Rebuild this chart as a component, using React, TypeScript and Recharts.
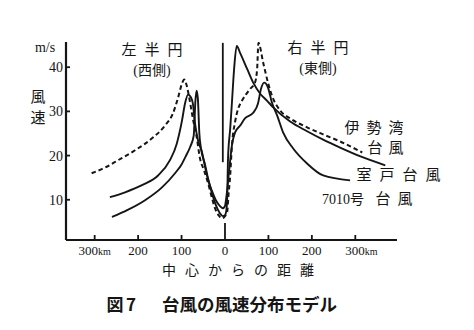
import React from 'react';
import { LineChart, Line, XAxis, YAxis, ReferenceLine } from 'recharts';

// 伊勢湾台風 (dashed)
const isewanKm = [-307, -276, -247, -207, -168, -138, -120, -108, -99, -94, -88, -81, -74, -65, -58, -48, -39, -30, -23, -14, -7, 0, 5, 8, 12, 16, 23, 30, 39, 48, 58, 69, 74, 77, 88, 99, 108, 127, 150, 189, 226, 265, 316];
const isewanSpeed = [16.0, 17.3, 18.9, 21.2, 23.9, 26.8, 29.5, 33.1, 36.3, 37.2, 35.8, 32.4, 28.4, 24.1, 19.6, 16.6, 13.8, 10.4, 8.1, 6.4, 5.8, 6.3, 7.2, 11.0, 15.5, 22.3, 27.5, 30.5, 32.4, 33.8, 35.1, 36.5, 39.6, 45.5, 41.0, 36.5, 33.6, 30.2, 28.4, 26.4, 24.8, 23.2, 20.7];

// 室戸台風 (solid)
const murotoKm = [-260, -224, -184, -145, -115, -100, -90, -80, -72, -68, -65.5, -62.5, -59, -55, -46, -39, -30, -21, -12, -5, 0, 3, 5, 7, 12, 16, 21, 27, 35, 51, 65, 81, 97, 111, 150, 189, 226, 265, 312, 369];
const murotoSpeed = [6.1, 7.7, 9.9, 12.8, 16.0, 18.0, 19.9, 22.0, 24.5, 32.5, 34.7, 33.0, 25.0, 21.5, 18.0, 14.8, 11.5, 8.8, 7.0, 6.3, 6.5, 7.5, 10.0, 19.4, 26.1, 32.0, 39.6, 44.8, 43.2, 39.6, 36.5, 34.0, 32.4, 30.9, 27.7, 25.5, 23.6, 21.8, 19.8, 17.8];

// 7010号台風 (solid)
const t7010Km = [-265, -230, -191, -154, -127, -111, -99, -92, -85, -78, -74, -69, -62, -53, -46, -39, -30, -21, -12, -5, 0, 3, 6, 9, 16, 23, 35, 46, 65, 76, 83, 90, 99, 108, 120, 134, 157, 189, 226, 288];
const t7010Speed = [10.6, 11.7, 13.3, 15.5, 18.9, 22.7, 27.9, 31.8, 33.8, 33.1, 31.8, 27.3, 23.4, 20.8, 17.5, 14.6, 12.0, 9.9, 8.6, 8.1, 8.6, 10.5, 13.0, 16.0, 22.3, 25.2, 26.8, 28.4, 29.7, 31.8, 35.1, 36.5, 35.4, 32.0, 29.1, 25.2, 21.6, 18.2, 15.5, 14.4];

// center line segment
const centerKm = -5;
const centerSpeedRange = [18.5, 45.5];

const xTicks = [-300, -200, -100, 0, 100, 200, 300];
const xTickLabels = ['300', '200', '100', '0', '100', '200', '300'];
const yTicks = [10, 20, 30, 40];

const toPoints = (km: number[], v: number[]) => km.map((k, i) => ({ km: k, v: v[i] }));

const INK = '#151515';
const SERIF = '"Liberation Serif", "DejaVu Serif", serif';
const CJK = '"Liberation Serif", "Noto Sans CJK JP", serif';

const XTick = (props: any) => {
  const { x, y, payload, index } = props;
  const label = xTickLabels[index];
  const isKm = payload.value === 300 || payload.value === -300;
  const len = payload.value === 0 ? 17 : 5;
  return (
    <g>
      <line x1={x} y1={y} x2={x} y2={y - len} stroke={INK} strokeWidth={1.8} />
      <text
        x={payload.value === 300 ? x - 10 : x}
        y={y + 15}
        textAnchor={payload.value === 300 ? 'start' : 'middle'}
        fontFamily={SERIF}
        fontSize={13}
        fill={INK}
      >
        {label}
        {isKm ? <tspan fontSize={10}>km</tspan> : null}
      </text>
    </g>
  );
};

const YTick = (props: any) => {
  const { x, y, payload } = props;
  return (
    <g>
      <line x1={x} y1={y} x2={x + 4} y2={y} stroke={INK} strokeWidth={1.8} />
      <text x={x - 3} y={y + 5} textAnchor="end" fontFamily={SERIF} fontSize={14} fill={INK}>
        {payload.value}
      </text>
    </g>
  );
};

const Spaced = ({ text, x, y, step, size, family = CJK, weight = 400 }: any) => (
  <g>
    {Array.from(text as string).map((ch, i) => (
      <text
        key={i}
        x={x + i * step}
        y={y}
        textAnchor="middle"
        dominantBaseline="central"
        fontFamily={family}
        fontSize={size}
        fontWeight={weight}
        fill={INK}
      >
        {ch}
      </text>
    ))}
  </g>
);

export default function App() {
  return (
    <div style={{ position: 'relative', width: 466, height: 322, background: '#fff' }}>
      <LineChart
        width={466}
        height={322}
        margin={{ top: 34, right: 77, bottom: 70, left: 18 }}
      >
        <XAxis
          dataKey="km"
          type="number"
          domain={[-366, 396]}
          ticks={xTicks}
          allowDataOverflow
          tickSize={0}
          tickMargin={0}
          height={20}
          tick={<XTick />}
          axisLine={{ stroke: INK, strokeWidth: 2.2 }}
          tickLine={false}
        />
        <YAxis
          type="number"
          domain={[0.9, 45.7]}
          ticks={yTicks}
          allowDataOverflow
          tickSize={0}
          tickMargin={0}
          width={40}
          tick={<YTick />}
          axisLine={{ stroke: INK, strokeWidth: 2.2 }}
          tickLine={false}
        />
        <ReferenceLine
          segment={[
            { x: centerKm, y: centerSpeedRange[0] },
            { x: centerKm, y: centerSpeedRange[1] },
          ]}
          stroke={INK}
          strokeWidth={1.8}
        />
        <Line
          data={toPoints(isewanKm, isewanSpeed)}
          dataKey="v"
          type="monotone"
          stroke={INK}
          strokeWidth={2}
          strokeDasharray="4.5 3"
          dot={false}
          isAnimationActive={false}
        />
        <Line
          data={toPoints(murotoKm, murotoSpeed)}
          dataKey="v"
          type="monotone"
          stroke={INK}
          strokeWidth={1.9}
          dot={false}
          isAnimationActive={false}
        />
        <Line
          data={toPoints(t7010Km, t7010Speed)}
          dataKey="v"
          type="monotone"
          stroke={INK}
          strokeWidth={1.9}
          dot={false}
          isAnimationActive={false}
        />
      </LineChart>
      <svg
        width={474}
        height={330}
        style={{ position: 'absolute', left: -8, top: -8, pointerEvents: 'none' }}
      >
        <text x={45} y={47} textAnchor="middle" dominantBaseline="central" fontFamily={SERIF} fontSize={14} fill={INK}>
          m/s
        </text>
        <Spaced text="風" x={38} y={97} step={0} size={15} />
        <Spaced text="速" x={38} y={118} step={0} size={15} />
        <Spaced text="左半円" x={129} y={50} step={23} size={15} />
        <text x={152} y={70} textAnchor="middle" dominantBaseline="central" fontFamily={CJK} fontSize={14} fill={INK}>
          (西側)
        </text>
        <Spaced text="右半円" x={295} y={48} step={23} size={15} />
        <text x={318} y={68} textAnchor="middle" dominantBaseline="central" fontFamily={CJK} fontSize={14} fill={INK}>
          (東側)
        </text>
        <Spaced text="伊勢湾" x={352} y={128} step={22} size={15} />
        <Spaced text="台風" x={375} y={148} step={21} size={15} />
        <Spaced text="室戸台風" x={364} y={175} step={23} size={15} />
        <text x={336} y={199} textAnchor="middle" dominantBaseline="central" fontFamily={SERIF} fontSize={14} fill={INK}>
          7010
        </text>
        <Spaced text="号" x={357} y={199} step={0} size={14} />
        <Spaced text="台風" x={383} y={199} step={22} size={15} />
        <Spaced text="中心からの距離" x={169} y={270} step={23} size={14} />
        <Spaced text="図" x={115} y={303} step={0} size={17} family='"Noto Sans CJK JP", sans-serif' weight={700} />
        <Spaced text="7" x={131} y={303} step={0} size={17} family='"Noto Sans CJK JP", sans-serif' weight={700} />
        <text x={162} y={303} dominantBaseline="central" fontFamily='"Noto Sans CJK JP", sans-serif' fontSize={17.5} fontWeight={700} fill={INK}>
          台風の風速分布モデル
        </text>
      </svg>
    </div>
  );
}
